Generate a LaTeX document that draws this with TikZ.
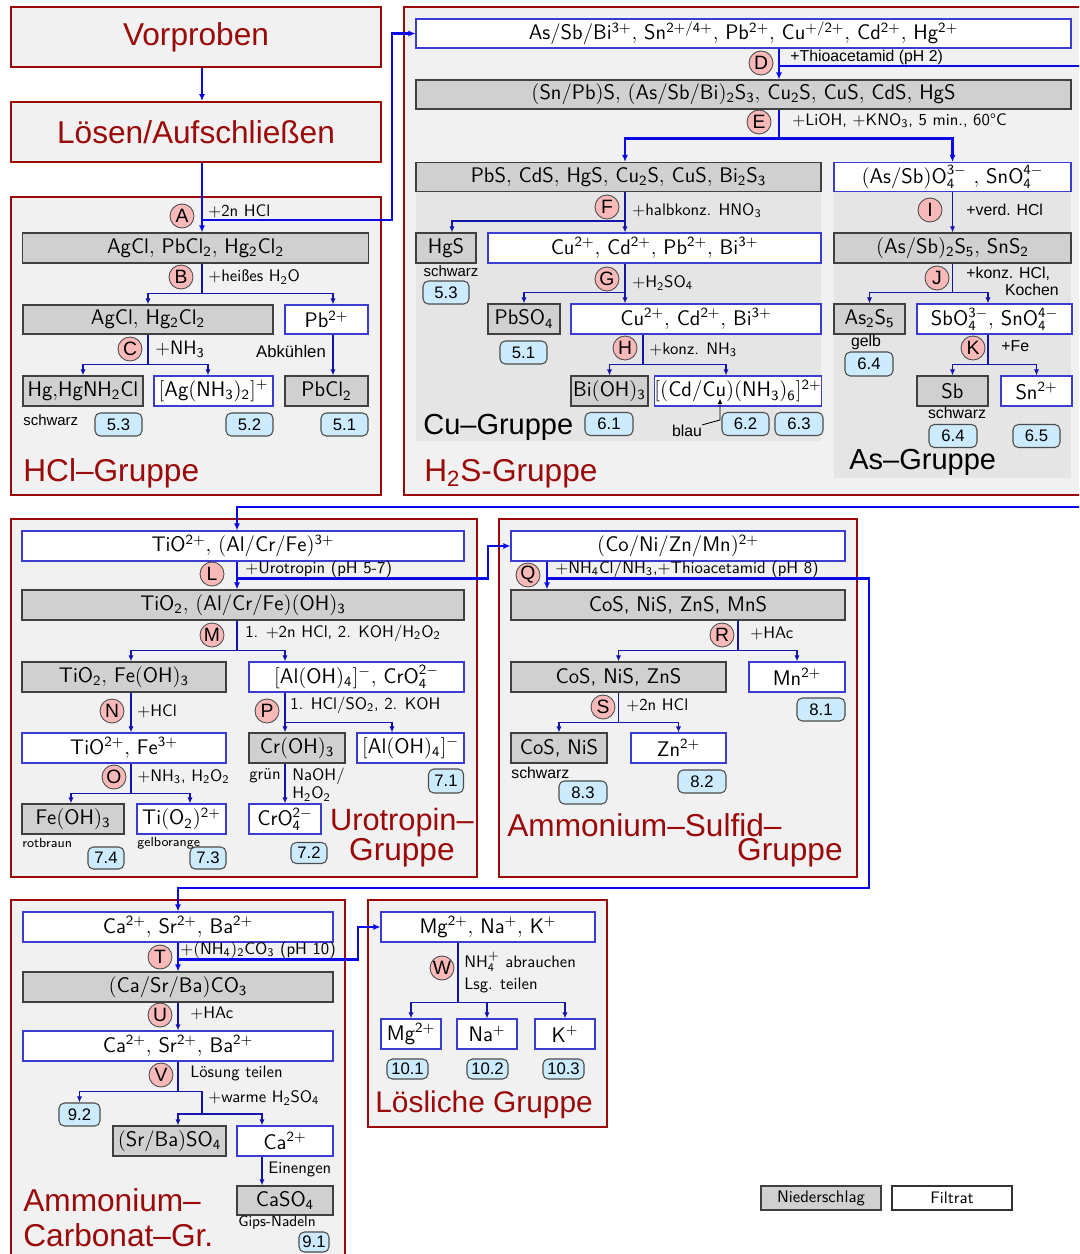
\RequirePackage{fix-cm}
\documentclass[tikz,border=0pt]{standalone}
\usepackage{fontspec}
\usepackage{tikz}
\usetikzlibrary{arrows.meta, positioning, calc}
\renewcommand{\familydefault}{\sfdefault}
\newfontfamily\hv{Liberation Sans}
\newcommand{\chm}[1]{$\mathsf{#1}$}
\definecolor{grpred}{RGB}{155,10,10}
\definecolor{grpbg}{RGB}{241,241,241}
\definecolor{subbg}{RGB}{229,229,229}
\definecolor{nsgray}{RGB}{208,208,208}
\definecolor{filblue}{RGB}{60,60,210}
\definecolor{stepred}{RGB}{250,185,185}
\definecolor{nrblue}{RGB}{205,235,255}
\definecolor{mainblue}{RGB}{10,10,230}
\definecolor{flblue}{RGB}{20,20,170}

\begin{document}
\begin{tikzpicture}[x=0.02cm, y=-0.02cm,
  grp/.style={draw=grpred, line width=1.1pt, fill=grpbg},
  panel/.style={fill=subbg},
  sz/.style 2 args={minimum width=#1*0.02cm, minimum height=#2*0.02cm},
  ns/.style={draw=black!75, line width=0.6pt, fill=nsgray, inner sep=0pt, font=\fontsize{12}{14}\selectfont},
  fil/.style={draw=filblue, line width=0.6pt, fill=white, inner sep=0pt, font=\fontsize{12}{14}\selectfont},
  stp/.style={circle, draw=black!70, line width=0.5pt, fill=stepred, minimum size=0.48cm, inner sep=0pt, font=\hv\fontsize{11}{12}\selectfont},
  nr/.style={draw=black!70, line width=0.6pt, fill=nrblue, rounded corners=3pt, inner sep=0pt, sz={47}{23}, font=\hv\fontsize{9.5}{11}\selectfont},
  lbl/.style={anchor=west, inner sep=0pt, font=\fontsize{9.5}{11}\selectfont},
  hlbl/.style={anchor=west, inner sep=0pt, font=\hv\fontsize{9}{10}\selectfont},
  ttl/.style={anchor=west, inner sep=0pt, text=grpred, font=\hv\fontsize{18}{20}\selectfont},
  mainflow/.style={draw=mainblue, line width=1.2pt, -{Latex[length=4pt,width=3.5pt]}},
  fl/.style={draw=flblue, line width=0.7pt, -{Latex[length=3.5pt,width=3pt]}}]
  \useasboundingbox (0,0) rectangle (1079,1254);
  \clip (0,0) rectangle (1079,1254);

  \draw[grp] (11,197) rectangle (381,495);
  \draw[grp] (404,7) rectangle (1110,495);
  \fill[panel] (416,162) rectangle (821,441);
  \fill[panel] (834,162) rectangle (1071,478);
  \draw[grp] (11,519) rectangle (477,877);
  \draw[grp] (499,519) rectangle (857,877);
  \draw[grp] (11,900) rectangle (345,1280);
  \draw[grp] (368,900) rectangle (607,1127);

  \coordinate (xa) at (202,0);
  \coordinate (xd) at (779,0);
  \coordinate (xf) at (625,0);
  \coordinate (xh) at (643,0);
  \coordinate (xl) at (237,0);
  \coordinate (xn) at (131,0);
  \coordinate (xp) at (285,0);
  \coordinate (xq) at (547,0);
  \coordinate (xr) at (738,0);
  \coordinate (xt) at (178,0);
  \coordinate (xw) at (458,0);

  \node[grp, sz={370}{60}, inner sep=0pt, text=grpred, font=\hv\fontsize{18}{20}\selectfont] (vorp) at (196,37) {Vorproben};
  \node[grp, sz={370}{60}, inner sep=0pt, text=grpred, font=\hv\fontsize{18}{20}\selectfont] (loes) at (196,132) {Lösen/Aufschließen};

  \node[stp] (a) at (182,216) {A};
  \node[lbl] (la) at (208,211) {+2n HCl};
  \node[ns, sz={346}{30}] (hcl1) at (195.5,248) {\chm{AgCl{,}\ PbCl_2{,}\ Hg_2Cl_2}};
  \node[stp] (b) at (181,277) {B};
  \node[lbl] (lb) at (208,277) {+heißes \chm{H_2O}};
  \node[ns, sz={250}{29}] (hcl2) at (148,319.5) {\chm{AgCl{,}\ Hg_2Cl_2}};
  \node[fil, sz={83}{29}] (pb) at (326.5,319.5) {\chm{Pb^{2+}}};
  \node[stp] (c) at (130,349) {C};
  \node[lbl, font=\fontsize{11}{12}\selectfont] (lc) at (155,349) {+\chm{NH_3}};
  \node[inner sep=0pt, font=\hv\fontsize{9.5}{11}\selectfont] (labk) at (291,352) {Abkühlen};
  \node[ns, sz={120}{30}] (hg) at (83,391) {\chm{Hg{,}HgNH_2Cl}};
  \node[fil, sz={119}{30}] (ag) at (213.5,391) {\chm{[Ag(NH_3)_2]^+}};
  \node[ns, sz={83}{30}] (pbcl) at (326.5,391) {\chm{PbCl_2}};
  \node[hlbl, font=\hv\fontsize{8.5}{10}\selectfont] (lsw1) at (23,420) {schwarz};
  \node[nr] (n53) at (118.5,424.5) {5.3};
  \node[nr] (n52) at (249.5,424.5) {5.2};
  \node[nr] (n51) at (344.5,424.5) {5.1};
  \node[ttl] (thcl) at (23,473) {HCl–Gruppe};

  \node[fil, sz={655}{29}] (asb) at (743.5,33.5) {\chm{As/Sb/Bi^{3+}{,}\ Sn^{2+/4+}{,}\ Pb^{2+}{,}\ Cu^{+/2+}{,}\ Cd^{2+}{,}\ Hg^{2+}}};
  \node[stp] (d) at (761,63) {D};
  \node[hlbl] (ld) at (790,57) {+Thioacetamid (pH 2)};
  \node[ns, sz={655}{29}] (snpb) at (743.5,94.5) {\chm{(Sn/Pb)S{,}\ (As/Sb/Bi)_2S_3{,}\ Cu_2S{,}\ CuS{,}\ CdS{,}\ HgS}};
  \node[stp] (e) at (759,122) {E};
  \node[lbl] (le) at (792,121) {+LiOH, +\chm{KNO_3}, 5 min., 60°C};
  \node[ns, sz={405}{29}] (cus) at (618.5,177) {\chm{PbS{,}\ CdS{,}\ HgS{,}\ Cu_2S{,}\ CuS{,}\ Bi_2S_3}};
  \node[fil, sz={237}{29}] (aso) at (952.5,177) {\chm{(As/Sb)O_4^{3-}\ {,}\ SnO_4^{4-}}};
  \node[stp] (f) at (607,207) {F};
  \node[lbl] (lf) at (632,211) {+halbkonz. \chm{HNO_3}};
  \node[ns, sz={60}{30}] (hgs) at (446,248) {HgS};
  \node[fil, sz={333}{30}] (cu4) at (654.5,248) {\chm{Cu^{2+}{,}\ Cd^{2+}{,}\ Pb^{2+}{,}\ Bi^{3+}}};
  \node[inner sep=0pt, font=\hv\fontsize{8.5}{10}\selectfont] (lsw2) at (451,271) {schwarz};
  \node[nr, sz={46}{23}] (n53b) at (446,292.5) {5.3};
  \node[stp] (g) at (607,279) {G};
  \node[lbl] (lg) at (632,283) {+\chm{H_2SO_4}};
  \node[ns, sz={72}{30}] (pbso) at (524,319) {\chm{PbSO_4}};
  \node[fil, sz={250}{30}] (cu3) at (696,319) {\chm{Cu^{2+}{,}\ Cd^{2+}{,}\ Bi^{3+}}};
  \node[nr] (n51b) at (523.5,352.5) {5.1};
  \node[stp] (h) at (625,348) {H};
  \node[lbl] (lh) at (649,350) {+konz. \chm{NH_3}};
  \node[ns, sz={77}{30}] (bioh) at (609.5,391) {\chm{Bi(OH)_3}};
  \node[fil, sz={166}{30}] (cdcu) at (738,391) {\chm{[(Cd/Cu)(NH_3)_6]^{2+}}};
  \node[nr, sz={48}{23}] (n61) at (609,424) {6.1};
  \node[nr] (n62) at (745.5,424) {6.2};
  \node[nr, sz={48}{23}] (n63) at (799,424) {6.3};
  \node[inner sep=0pt, font=\hv\fontsize{9}{10}\selectfont] (lblau) at (687,431) {blau};
  \node[anchor=west, inner sep=0pt, font=\hv\fontsize{16.5}{18}\selectfont] (tcu) at (423,427) {Cu–Gruppe};
  \node[stp] (i) at (930,210) {I};
  \node[hlbl] (li) at (966,210) {+verd. HCl};
  \node[ns, sz={237}{30}] (as2s5) at (952.5,248) {\chm{(As/Sb)_2S_5{,}\ SnS_2}};
  \node[stp] (j) at (937,278) {J};
  \node[hlbl] (lj1) at (966,274) {+konz. HCl,};
  \node[hlbl, anchor=east] (lj2) at (1059,290) {Kochen};
  \node[ns, sz={71}{30}] (as2) at (869.5,319) {\chm{As_2S_5}};
  \node[fil, sz={155}{30}] (sbo) at (994.5,319) {\chm{SbO_4^{3-}{,}\ SnO_4^{4-}}};
  \node[inner sep=0pt, font=\hv\fontsize{9}{10}\selectfont] (lgelb) at (866,342) {gelb};
  \node[nr, sz={48}{24}] (n64) at (869,364) {6.4};
  \node[stp] (k) at (973,348) {K};
  \node[hlbl] (lk) at (1001,346) {+Fe};
  \node[ns, sz={71}{30}] (sb) at (952.5,391) {Sb};
  \node[fil, sz={71}{30}] (sn) at (1036.5,391) {\chm{Sn^{2+}}};
  \node[inner sep=0pt, font=\hv\fontsize{9}{10}\selectfont] (lsw3) at (957,413) {schwarz};
  \node[nr, sz={48}{23}] (n64b) at (953,436) {6.4};
  \node[nr, sz={47}{23}] (n65) at (1036.5,436) {6.5};
  \node[anchor=west, inner sep=0pt, font=\hv\fontsize{16.5}{18}\selectfont] (tas) at (849,462) {As–Gruppe};
  \node[ttl] (th2s) at (424,474) {H\textsubscript{2}S-Gruppe};

  \node[fil, sz={442}{30}] (tio) at (243,546) {\chm{TiO^{2+}{,}\ (Al/Cr/Fe)^{3+}}};
  \node[stp] (l) at (212,574) {L};
  \node[lbl] (ll) at (245,569) {+Urotropin (pH 5-7)};
  \node[ns, sz={442}{30}] (tiooh) at (243,605) {\chm{TiO_2{,}\ (Al/Cr/Fe)(OH)_3}};
  \node[stp] (m) at (212,635) {M};
  \node[lbl] (lm) at (245,633) {1. +2n HCl, 2. KOH/\chm{H_2O_2}};
  \node[ns, sz={204}{30}] (tife) at (124,677) {\chm{TiO_2{,}\ Fe(OH)_3}};
  \node[fil, sz={215}{30}] (alcr) at (356.5,677) {\chm{[Al(OH)_4]^-{,}\ CrO_4^{2-}}};
  \node[stp] (n) at (112,711) {N};
  \node[lbl] (ln) at (137,711) {+HCl};
  \node[stp] (p) at (267,711) {P};
  \node[lbl] (lp) at (290,705) {1. HCl/\chm{SO_2}, 2. KOH};
  \node[fil, sz={204}{30}] (tife3) at (124,748) {\chm{TiO^{2+}{,}\ Fe^{3+}}};
  \node[ns, sz={96}{30}] (croh) at (297,748) {\chm{Cr(OH)_3}};
  \node[fil, sz={107}{30}] (aloh) at (410.5,748) {\chm{[Al(OH)_4]^-}};
  \node[stp] (o) at (114,777) {O};
  \node[lbl] (lo) at (137,777) {+\chm{NH_3}, \chm{H_2O_2}};
  \node[lbl, anchor=east] (lgr) at (281,776) {grün};
  \node[lbl] (lna1) at (292,776) {NaOH/};
  \node[lbl] (lna2) at (292,794) {\chm{H_2O_2}};
  \node[nr, sz={35}{24}] (n71) at (446,781) {7.1};
  \node[ns, sz={102}{30}] (feoh) at (73,819) {\chm{Fe(OH)_3}};
  \node[fil, sz={89}{30}] (tio2) at (181.5,819) {\chm{Ti(O_2)^{2+}}};
  \node[fil, sz={72}{30}] (cro4) at (285,819) {\chm{CrO_4^{2-}}};
  \node[lbl, font=\fontsize{7.5}{9}\selectfont] (lrot) at (22,843) {rotbraun};
  \node[lbl, font=\fontsize{7.5}{9}\selectfont] (lgo) at (137,843) {gelborange};
  \node[nr, sz={36}{22}] (n74) at (106,858) {7.4};
  \node[nr, sz={36}{22}] (n73) at (208,858) {7.3};
  \node[nr, sz={36}{21}] (n72) at (309,853) {7.2};
  \node[ttl, anchor=east, font=\hv\fontsize{17.5}{20}\selectfont] (turo1) at (474,823) {Urotropin–};
  \node[ttl, anchor=east] (turo2) at (455,853) {Gruppe};

  \node[fil, sz={334}{30}] (co) at (678,546) {\chm{(Co/Ni/Zn/Mn)^{2+}}};
  \node[stp] (q) at (528,575) {Q};
  \node[lbl] (lq) at (555,569) {+\chm{NH_4Cl/NH_3},+Thioacetamid (pH 8)};
  \node[ns, sz={334}{30}] (cos4) at (678,605) {CoS, NiS, ZnS, MnS};
  \node[stp] (r) at (722,635) {R};
  \node[lbl] (lr) at (750,633) {+HAc};
  \node[ns, sz={215}{30}] (cos3) at (618.5,677) {CoS, NiS, ZnS};
  \node[fil, sz={96}{30}] (mn) at (797,677) {\chm{Mn^{2+}}};
  \node[nr, sz={48}{23}] (n81) at (821,709.5) {8.1};
  \node[stp] (s) at (603,707) {S};
  \node[lbl] (ls) at (626,705) {+2n HCl};
  \node[ns, sz={96}{30}] (cos2) at (559,748) {CoS, NiS};
  \node[fil, sz={95}{30}] (zn) at (678.5,748) {\chm{Zn^{2+}}};
  \node[hlbl] (lsw4) at (511,773) {schwarz};
  \node[nr, sz={48}{23}] (n83) at (583,792.5) {8.3};
  \node[nr, sz={48}{23}] (n82) at (702,781.5) {8.2};
  \node[ttl] (tsul1) at (507,825) {Ammonium–Sulfid–};
  \node[ttl, anchor=east] (tsul2) at (843,853) {Gruppe};

  \node[fil, sz={310}{30}] (ca1) at (178,927) {\chm{Ca^{2+}{,}\ Sr^{2+}{,}\ Ba^{2+}}};
  \node[stp] (t) at (160,957) {T};
  \node[lbl] (lt) at (180,950) {+\chm{(NH_4)_2CO_3} (pH 10)};
  \node[ns, sz={310}{30}] (caco) at (178,987) {\chm{(Ca/Sr/Ba)CO_3}};
  \node[stp] (u) at (160,1015) {U};
  \node[lbl] (lu) at (190,1013) {+HAc};
  \node[fil, sz={310}{30}] (ca2) at (178,1046) {\chm{Ca^{2+}{,}\ Sr^{2+}{,}\ Ba^{2+}}};
  \node[stp] (v) at (161,1075) {V};
  \node[lbl] (lv) at (190,1073) {Lösung teilen};
  \node[lbl] (lwa) at (208,1098) {+warme \chm{H_2SO_4}};
  \node[nr, sz={41}{23}] (n92) at (79.5,1114.5) {9.2};
  \node[ns, sz={113}{30}] (srba) at (169.5,1141) {\chm{(Sr/Ba)SO_4}};
  \node[fil, sz={96}{30}] (ca3) at (285,1141) {\chm{Ca^{2+}}};
  \node[lbl] (lein) at (268,1169) {Einengen};
  \node[ns, sz={96}{29}] (caso) at (285,1200.5) {\chm{CaSO_4}};
  \node[lbl, font=\fontsize{8.5}{10}\selectfont] (lgips) at (238,1223) {Gips-Nadeln};
  \node[nr, sz={30}{20}] (n91) at (314,1242) {9.1};
  \node[ttl] (tcar1) at (23,1200) {Ammonium–};
  \node[ttl] (tcar2) at (23,1235) {Carbonat–Gr.};

  \node[fil, sz={214}{30}] (mg) at (488,927) {\chm{Mg^{2+}{,}\ Na^+{,}\ K^+}};
  \node[stp] (w) at (442,968) {W};
  \node[lbl] (lw1) at (464,962) {\chm{NH_4^+} abrauchen};
  \node[lbl] (lw2) at (464,985) {Lsg. teilen};
  \node[fil, sz={60}{30}] (mg1) at (411,1034) {\chm{Mg^{2+}}};
  \node[fil, sz={60}{30}] (na) at (487,1034) {\chm{Na^+}};
  \node[fil, sz={60}{30}] (kk) at (565,1034) {\chm{K^+}};
  \node[nr, sz={41}{20}] (n101) at (407.5,1069) {10.1};
  \node[nr, sz={41}{20}] (n102) at (487.5,1069) {10.2};
  \node[nr, sz={41}{20}] (n103) at (563.5,1069) {10.3};
  \node[ttl, font=\hv\fontsize{17}{20}\selectfont] (tloes) at (375,1105) {Lösliche Gruppe};

  \node[ns, sz={120}{24}, font=\fontsize{9.5}{11}\selectfont] (legn) at (821,1198) {Niederschlag};
  \node[fil, draw=black!80, sz={120}{24}, font=\fontsize{9.5}{11}\selectfont] (legf) at (952,1198) {Filtrat};

  \draw[mainflow] (vorp.south -| xa) -- (loes.north -| xa);
  \draw[mainflow] (loes.south -| xa) -- (hcl1.north -| xa);
  \draw[mainflow] (loes.south -| xa) |- (392,220) |- (asb.west);
  \draw[fl] (hcl1.south -| xa) -- ++(0,30) -| (hcl2.north);
  \draw[fl] (hcl1.south -| xa) -- ++(0,30) -| (pb.north -| 333,0);
  \draw[fl] (hcl2.south) -- ++(0,30) -| (hg.north);
  \draw[fl] (hcl2.south) -- ++(0,30) -| (ag.north -| 208,0);
  \draw[fl] (pb.south -| 333,0) -- (pbcl.north -| 333,0);

  \draw[mainflow] (asb.south -| xd) -- (snpb.north -| xd);
  \draw[mainflow] (asb.south -| xd) |- (1110,66) -- (1110,507) -| (tio.north -| xl);
  \draw[mainflow] (snpb.south -| xd) -- ++(0,29) -| (cus.north -| xf);
  \draw[mainflow] (snpb.south -| xd) -- ++(0,29) -| (aso.north);
  \draw[fl] (cus.south -| xf) -- (cu4.north -| xf);
  \draw[fl] (cus.south -| xf) -- ++(0,29) -| (hgs.north -| 452,0);
  \draw[fl] (cu4.south -| xf) -- (cu3.north -| xf);
  \draw[fl] (cu4.south -| xf) -- ++(0,29) -| (pbso.north);
  \draw[fl] (cu3.south -| xh) -- ++(0,30) -| (bioh.north);
  \draw[fl] (cu3.south -| xh) -- ++(0,30) -| (cdcu.north -| 726,0);
  \draw[black, line width=0.5pt, -{Latex[length=3pt,width=2.5pt]}] (lblau.north east) -- (720,420) -- ($(cdcu.south -| 720,0)+(0,-8)$);
  \draw[fl] (aso.south) -- (as2s5.north);
  \draw[fl] (as2s5.south) -- ++(0,29) -| (as2.north);
  \draw[fl] (as2s5.south) -- ++(0,29) -| (sbo.north -| 988,0);
  \draw[fl] (sbo.south -| 988,0) -- ++(0,30) -| (sb.north);
  \draw[fl] (sbo.south -| 988,0) -- ++(0,30) -| (sn.north);

  \draw[mainflow] (tio.south -| xl) -- (tiooh.north -| xl);
  \draw[mainflow] (tio.south -| xl) -- ++(0,17) -| (488,546) -- (co.west);
  \draw[fl] (tiooh.south -| xl) -- ++(0,30) -| (tife.north -| xn);
  \draw[fl] (tiooh.south -| xl) -- ++(0,30) -| (alcr.north -| xp);
  \draw[fl] (tife.south -| xn) -- (tife3.north -| xn);
  \draw[fl] (alcr.south -| xp) -- (croh.north -| xp);
  \draw[fl] (alcr.south -| xp) -- ++(0,30) -| (aloh.north -| 392,0);
  \draw[fl] (tife3.south -| xn) -- ++(0,30) -| (feoh.north -| 71,0);
  \draw[fl] (tife3.south -| xn) -- ++(0,30) -| (tio2.north -| 190,0);
  \draw[fl] (croh.south -| xp) -- (cro4.north -| xp);

  \draw[mainflow] (co.south -| xq) -- (cos4.north -| xq);
  \draw[mainflow] (co.south -| xq) -- ++(0,17) -| (869,888) -| (ca1.north -| xt);
  \draw[fl] (cos4.south -| xr) -- ++(0,30) -| (cos3.north);
  \draw[fl] (cos4.south -| xr) -- ++(0,30) -| (mn.north);
  \draw[fl] (cos3.south) -- ++(0,30) -| (cos2.north);
  \draw[fl] (cos3.south) -- ++(0,30) -| (zn.north);

  \draw[mainflow] (ca1.south -| xt) -- (caco.north -| xt);
  \draw[mainflow] (ca1.south -| xt) -- ++(0,17) -| (358,927) -- (mg.west);
  \draw[fl] (caco.south -| xt) -- (ca2.north -| xt);
  \coordinate (vs) at (202,1114);
  \draw[fl] (ca2.south -| xt) -- ++(0,30) -| (n92.north);
  \draw[fl] (ca2.south -| xt) -- ++(0,30) -| (vs) -| (srba.north -| xt);
  \draw[fl] (vs) -| (ca3.north -| 262,0);
  \draw[fl] (ca3.south -| 262,0) -- (caso.north -| 262,0);

  \draw[fl] (mg.south -| xw) -- ++(0,60) -| (mg1.north);
  \draw[fl] (mg.south -| xw) -- ++(0,60) -| (na.north);
  \draw[fl] (mg.south -| xw) -- ++(0,60) -| (kk.north);
\end{tikzpicture}
\end{document}
